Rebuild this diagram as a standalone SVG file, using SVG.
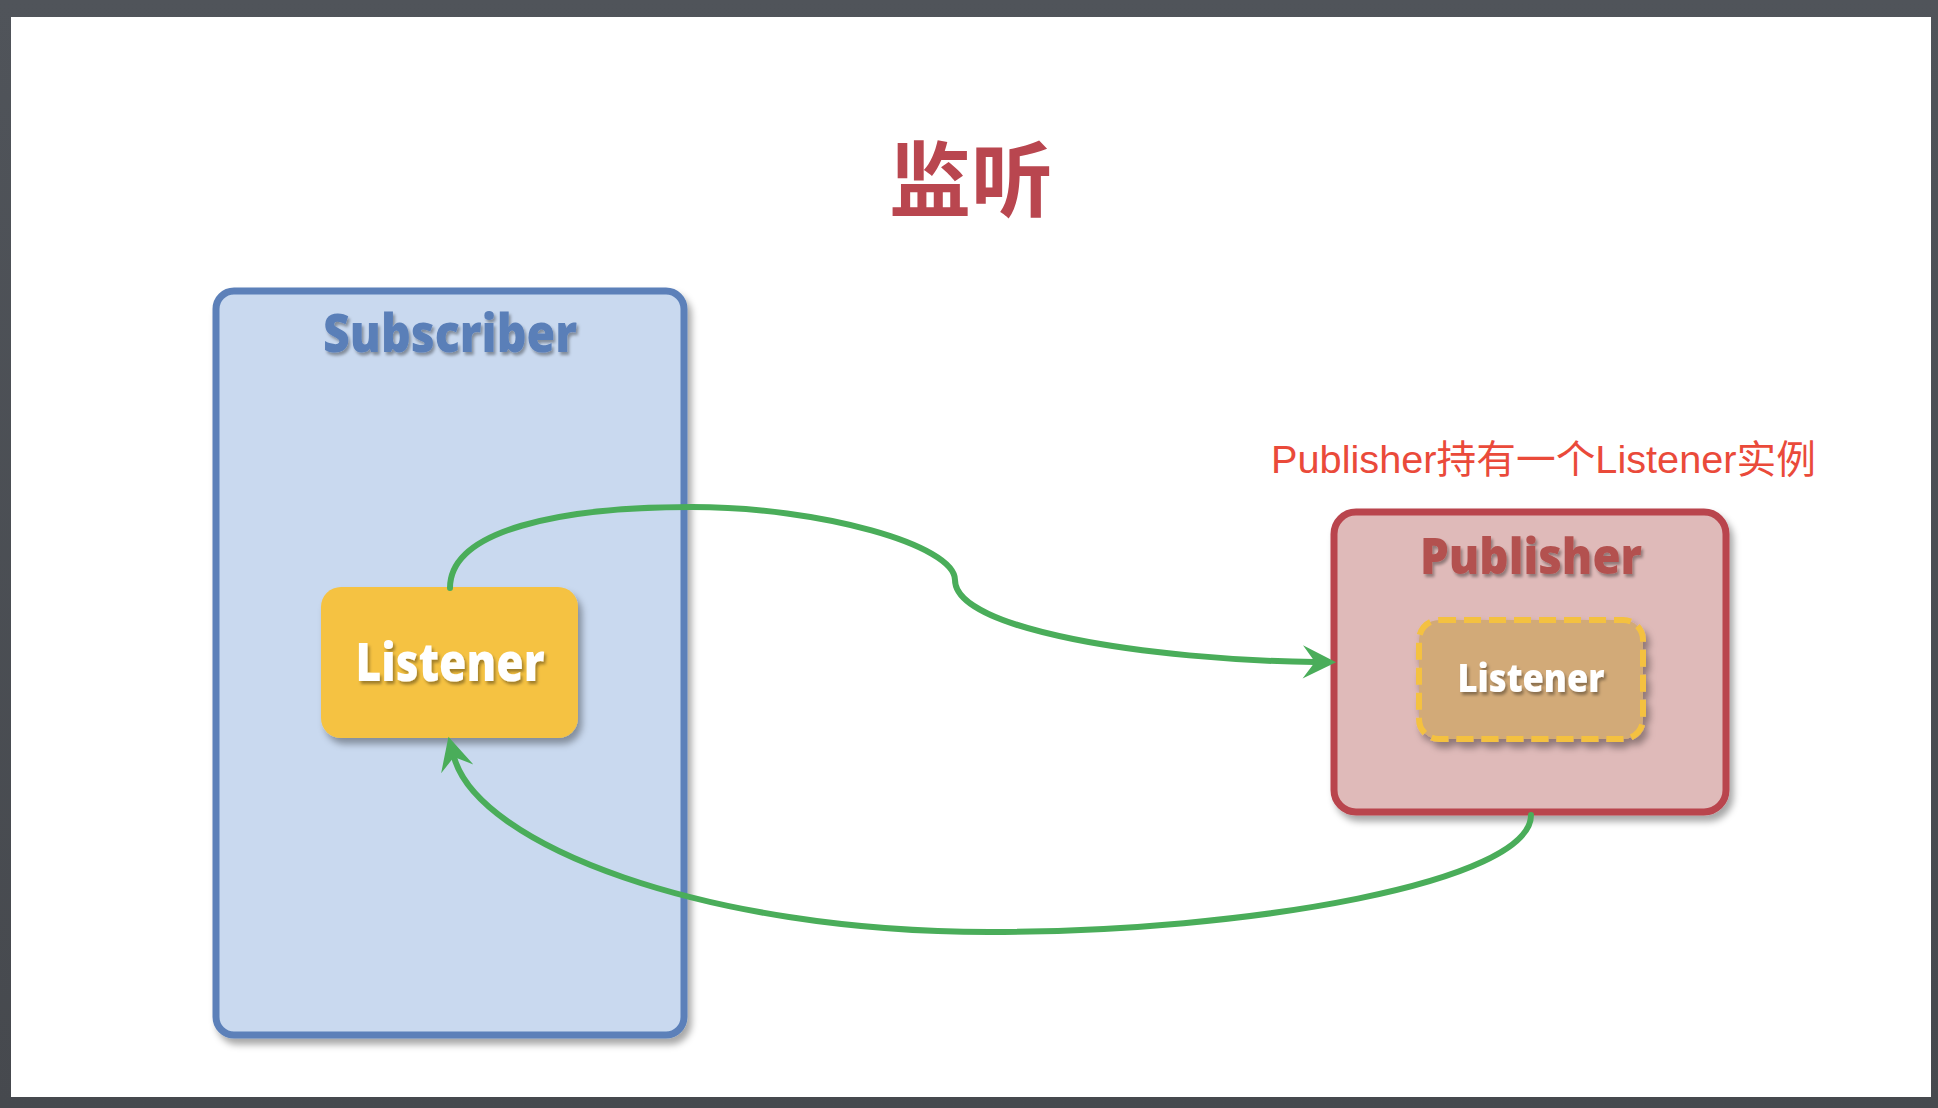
<svg xmlns="http://www.w3.org/2000/svg" width="1938" height="1108" viewBox="0 0 1938 1108">
<defs>
<style>
.bold{font-family:"Open Sans","DejaVu Sans",sans-serif;font-weight:800;text-anchor:middle}
.conn{fill:none;stroke:#4aad5a;stroke-width:6;stroke-linecap:round}
</style>
<filter id="boxShadow" x="-10%" y="-10%" width="125%" height="125%">
<feDropShadow dx="4" dy="6" stdDeviation="3.5" flood-color="#000" flood-opacity="0.35"/>
</filter>
<filter id="textShadow" x="-10%" y="-20%" width="125%" height="150%">
<feDropShadow dx="2" dy="3" stdDeviation="1.5" flood-color="#000" flood-opacity="0.35"/>
</filter>
<linearGradient id="frame" x1="0" y1="0" x2="0" y2="1">
<stop offset="0" stop-color="#50545a"/>
<stop offset="1" stop-color="#46494e"/>
</linearGradient>
<marker id="arrow" markerUnits="userSpaceOnUse" markerWidth="40" markerHeight="40" viewBox="-2 -17 36 34" refX="11" refY="0" orient="auto">
<path d="M0,-15 L30,0 L0,15 L11,0 Z" fill="#4aad5a"/>
</marker>
</defs>

<rect x="0" y="0" width="1938" height="1108" fill="url(#frame)"/>
<rect x="11" y="17" width="1920" height="1080" fill="#ffffff"/>

<g id="title">
<text x="971" y="210" font-family="'Noto Sans CJK SC','Noto Sans CJK TC',sans-serif" font-weight="700" font-size="82" fill="#b9464f" text-anchor="middle">监听</text>
</g>

<g id="subscriber">
<rect x="216" y="291" width="468" height="744" rx="18" fill="#c9d9ef" stroke="#5b80b9" stroke-width="7" filter="url(#boxShadow)"/>
<text class="bold" x="450" y="352" font-size="53" fill="#5a7fb8" textLength="254" lengthAdjust="spacingAndGlyphs" filter="url(#textShadow)">Subscriber</text>
</g>

<g id="listener">
<rect x="321" y="587" width="257" height="151" rx="20" fill="#f5c242" filter="url(#boxShadow)"/>
<text class="bold" x="450" y="681" font-size="53" fill="#ffffff" textLength="189" lengthAdjust="spacingAndGlyphs" filter="url(#textShadow)">Listener</text>
</g>

<g id="annotation">
<text x="1271" y="473" font-family="'Liberation Sans','Noto Sans CJK SC',sans-serif" font-size="39" fill="#ea4a3a" textLength="545" lengthAdjust="spacingAndGlyphs">Publisher持有一个Listener实例</text>
</g>

<g id="publisher">
<rect x="1334" y="512" width="392" height="300" rx="22" fill="#dfbab9" stroke="#b9444d" stroke-width="7" filter="url(#boxShadow)"/>
<text class="bold" x="1531" y="574" font-size="50" fill="#b3514f" textLength="222" lengthAdjust="spacingAndGlyphs" filter="url(#textShadow)">Publisher</text>
</g>

<g id="publisher-listener">
<rect x="1419" y="620" width="224" height="119" rx="20" fill="#d2aa78" stroke="#f4c141" stroke-width="6" stroke-dasharray="17 8" filter="url(#boxShadow)"/>
<text class="bold" x="1531" y="692" font-size="38" fill="#ffffff" textLength="147" lengthAdjust="spacingAndGlyphs" filter="url(#textShadow)">Listener</text>
</g>

<g id="connectors">
<path class="conn" d="M450,588 C450,530 560,507 692,507 C820,507 955,545 955,580 C955,630 1150,660 1315,662" marker-end="url(#arrow)"/>
<path class="conn" d="M1531,815 C1531,882 1250,932 989,932 C705,932 478,845 454,757" marker-end="url(#arrow)"/>
</g>
</svg>
